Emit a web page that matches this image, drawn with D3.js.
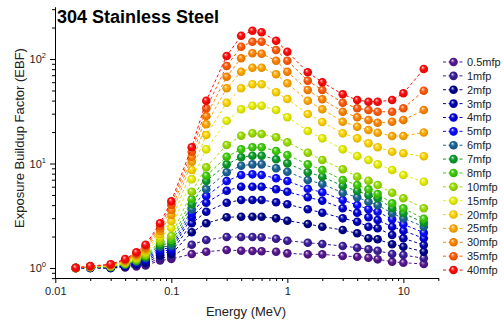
<!DOCTYPE html>
<html>
<head>
<meta charset="utf-8">
<script src="https://cdn.jsdelivr.net/npm/d3@7"></script>
<style>
body { margin: 0; background: #fff; }
text { font-family: "Liberation Sans", Arial, sans-serif; }
.axis path, .axis line { stroke: #000; }
</style>
</head>
<body>
<div class="mainviz"></div>
<script>
// photon energies (MeV) and depths
var energies = [0.015,0.02,0.03,0.04,0.05,0.06,0.08,0.1,0.15,0.2,0.3,0.4,0.5,0.6,0.8,1,1.5,2,3,4,5,6,8,10,15];
var mfpLabels = ["0.5mfp","1mfp","2mfp","3mfp","4mfp","5mfp","6mfp","7mfp","8mfp","10mfp","15mfp","20mfp","25mfp","30mfp","35mfp","40mfp"];
var colors = ["#55168f","#3a1c98","#000088","#0000b0","#0000d8","#0a0aff","#1a6494","#0a9a2a","#3ccc08","#9ade00","#e8f000","#ffd400","#ffa800","#ff8400","#ff5a08","#ff0a0a"];

// exposure buildup factors, one array per depth
var mfp05 = [1.00,1.00,1.00,1.011,1.034,1.057,1.18,1.219,1.361,1.432,1.487,1.464,1.454,1.445,1.432,1.382,1.352,1.352,1.303,1.283,1.255,1.211,1.149,1.124,1.092];
var mfp1  = [1.00,1.00,1.00,1.022,1.057,1.080,1.246,1.288,1.671,1.853,1.980,1.980,1.980,1.967,1.907,1.825,1.746,1.697,1.624,1.564,1.510,1.464,1.361,1.331,1.238];
var mfp2  = [1.00,1.004,1.004,1.034,1.080,1.117,1.317,1.361,2.196,2.678,3.057,3.097,3.097,3.097,2.989,2.836,2.637,2.485,2.310,2.148,1.924,1.883,1.686,1.599,1.432];
var mfp3  = [1.00,1.009,1.007,1.045,1.104,1.154,1.392,1.423,2.678,3.457,4.216,4.474,4.474,4.474,4.253,4.070,3.645,3.383,2.989,2.774,2.485,2.399,2.069,1.924,1.660];
var mfp4  = [1.00,1.011,1.011,1.057,1.124,1.193,1.454,1.487,3.057,4.216,5.492,5.998,5.998,5.998,5.664,5.373,4.749,4.406,3.727,3.383,3.057,2.880,2.485,2.275,1.924];
var mfp5  = [1.00,1.013,1.016,1.068,1.141,1.219,1.520,1.554,3.338,4.887,6.80,7.76,7.88,7.76,7.22,6.80,5.74,5.30,4.474,4.007,3.645,3.457,2.924,2.619,2.177];
var mfp6  = [1.00,1.016,1.020,1.075,1.154,1.246,1.588,1.624,3.645,5.664,8.24,9.53,9.82,9.82,9.00,8.35,6.95,6.37,5.25,4.749,4.309,4.007,3.338,2.989,2.485];
var mfp7  = [1.00,1.018,1.024,1.085,1.167,1.274,1.660,1.735,4.070,6.80,9.82,11.47,11.87,11.87,10.97,10.04,8.24,7.48,6.09,5.455,4.995,4.645,3.727,3.338,2.714];
var mfp8  = [1.00,1.020,1.029,1.092,1.18,1.303,1.735,1.853,4.544,7.64,11.61,13.67,14.29,14.29,13.17,12.06,9.82,8.67,6.95,6.23,5.664,5.108,4.160,3.727,2.963];
var mfp10 = [1.00,1.022,1.034,1.104,1.206,1.331,1.813,2.024,5.373,9.20,15.03,18.45,19.45,19.15,17.81,15.95,12.69,10.80,8.80,7.48,6.85,6.23,5.25,4.645,3.727];
var mfp15 = [1.00,1.024,1.045,1.129,1.246,1.407,1.980,2.414,7.06,13.67,25.68,33.02,35.74,35.74,32.51,27.68,20.46,17.42,13.67,11.79,10.80,9.82,8.67,7.76,6.70];
var mfp20 = [1.00,1.027,1.054,1.149,1.288,1.470,2.115,2.817,8.67,18.74,38.17,52.44,57.28,57.28,48.01,41.42,29.76,24.96,19.45,17.42,15.61,14.29,12.97,12.52,11.72];
var mfp25 = [1.00,1.031,1.061,1.167,1.323,1.520,2.260,3.215,10.40,23.72,52.44,75.6,82.5,82.5,71.4,58.56,39.9,33.02,25.12,22.50,20.92,19.71,18.33,18.33,19.80];
var mfp30 = [1.00,1.036,1.068,1.185,1.352,1.571,2.388,3.589,11.61,28.48,67.7,101.6,113.4,112.4,96.3,75.6,50.5,41.16,31.31,27.68,26.08,24.57,25.12,26.08,32.51];
var mfp35 = [1.00,1.040,1.075,1.201,1.382,1.624,2.523,4.007,12.97,33.75,85.7,131.2,146.4,146.4,121.9,96.3,61.97,50.5,38.17,33.75,32.51,31.31,31.31,33.75,49.74];
var mfp40 = [1.005,1.045,1.085,1.219,1.413,1.671,2.678,4.347,14.29,39.9,106.8,167.1,186.6,180.1,149.7,117.5,74.6,59.84,45.94,40.52,39.03,39.03,40.52,46.97,80.2];

var xTicks = [0.01,0.1,1,10];
var xTickLabels = ["0.01","0.1","1","10"];
var yTicks = [1,10,100];
var yTickExp = ["0","1","2"];

var allSeries = [mfp05,mfp1,mfp2,mfp3,mfp4,mfp5,mfp6,mfp7,mfp8,mfp10,mfp15,mfp20,mfp25,mfp30,mfp35,mfp40];

var width = 504, height = 327;

var svg = d3.select(".mainviz").append("svg")
	.attr("width", width)
	.attr("height", height);

var x = d3.scaleLog().domain([0.01, 20]).range([55.3, 438.3]);
var y = d3.scaleLog().domain([0.8026, 314.6]).range([278, 7]);

// glossy ball gradients
var defs = svg.append("defs");
colors.forEach(function(c, i){
	var g = defs.append("radialGradient")
		.attr("id", "ball" + i)
		.attr("cx", 0.5).attr("cy", 0.5).attr("r", 0.55)
		.attr("fx", 0.36).attr("fy", 0.3);
	g.append("stop").attr("offset", "0%").attr("stop-color", "#fff");
	g.append("stop").attr("offset", "16%").attr("stop-color", d3.interpolateRgb(c, "#fff")(0.45));
	g.append("stop").attr("offset", "45%").attr("stop-color", c);
	g.append("stop").attr("offset", "100%").attr("stop-color", d3.color(c).darker(0.55));
});

// minor ticks
var xMinor = [], yMinor = [];
[0.01,0.1,1,10].forEach(function(d){
	for (var k = 2; k <= 9; k++) if (d*k <= 20) xMinor.push(d*k);
});
[0.1,1,10,100].forEach(function(d){
	for (var k = 2; k <= 9; k++) if (d*k >= 0.8 && d*k <= 314) yMinor.push(d*k);
});

svg.append("g")
	.attr("class", "axis")
	.attr("transform", "translate(0,278)")
	.call(d3.axisBottom(x).tickValues(xMinor).tickSize(3).tickSizeOuter(0).tickFormat(""));

var xAxis = svg.append("g")
	.attr("class", "axis")
	.attr("transform", "translate(0,278)")
	.call(d3.axisBottom(x).tickValues(xTicks).tickSize(5).tickSizeOuter(0).tickFormat(function(d, i){ return xTickLabels[i]; }));
xAxis.selectAll("text")
	.attr("y", 9)
	.attr("font-size", 11)
	.attr("fill", "#222")
	.attr("font-family", "Liberation Sans, Arial, sans-serif");

svg.append("g")
	.attr("class", "axis")
	.attr("transform", "translate(55,0)")
	.call(d3.axisLeft(y).tickValues(yMinor).tickSize(3).tickSizeOuter(0).tickFormat(""));

svg.append("g")
	.attr("class", "axis")
	.attr("transform", "translate(55,0)")
	.call(d3.axisLeft(y).tickValues(yTicks).tickSize(5).tickSizeOuter(0).tickFormat(""));

var yLab = svg.append("g").selectAll("text")
	.data(yTicks)
	.enter().append("text")
	.attr("x", 46)
	.attr("y", function(d){ return y(d) + 4; })
	.attr("text-anchor", "end")
	.attr("font-size", 11)
	.attr("fill", "#222");
yLab.append("tspan").text("10");
yLab.append("tspan")
	.attr("dy", -5)
	.attr("font-size", 7.5)
	.text(function(d, i){ return yTickExp[i]; });

// series
var line = d3.line()
	.x(function(d, i){ return x(energies[i]); })
	.y(function(d){ return y(d); });

allSeries.forEach(function(s, i){
	var g = svg.append("g");
	g.append("path")
		.attr("d", line(s))
		.attr("fill", "none")
		.attr("stroke", colors[i])
		.attr("stroke-width", 1)
		.attr("stroke-dasharray", "3,2.5");
	g.selectAll("circle")
		.data(s)
		.enter().append("circle")
		.attr("cx", function(d, j){ return x(energies[j]); })
		.attr("cy", function(d){ return y(d); })
		.attr("r", 4.3)
		.attr("fill", "url(#ball" + i + ")");
});

// legend
var legend = svg.append("g").selectAll("g")
	.data(mfpLabels)
	.enter().append("g")
	.attr("transform", function(d, i){ return "translate(0," + (62 + i*13.87) + ")"; });
legend.append("line")
	.attr("x1", 443).attr("x2", 464)
	.attr("stroke", function(d, i){ return colors[i]; })
	.attr("stroke-dasharray", "3,2.5");
legend.append("circle")
	.attr("cx", 453.5).attr("r", 4.3)
	.attr("fill", function(d, i){ return "url(#ball" + i + ")"; });
legend.append("text")
	.attr("x", 467).attr("y", 4)
	.attr("font-size", 11)
	.attr("fill", "#222")
	.text(function(d){ return d; });

// titles
svg.append("text")
	.attr("x", 57).attr("y", 23)
	.attr("font-size", 18)
	.attr("font-weight", "bold")
	.text("304 Stainless Steel");

svg.append("text")
	.attr("x", 246).attr("y", 316)
	.attr("text-anchor", "middle")
	.attr("font-size", 13)
	.attr("fill", "#222")
	.text("Energy (MeV)");

svg.append("text")
	.attr("transform", "translate(24,138) rotate(-90)")
	.attr("text-anchor", "middle")
	.attr("font-size", 13)
	.attr("fill", "#222")
	.text("Exposure Buildup Factor (EBF)");
</script>
</body>
</html>
